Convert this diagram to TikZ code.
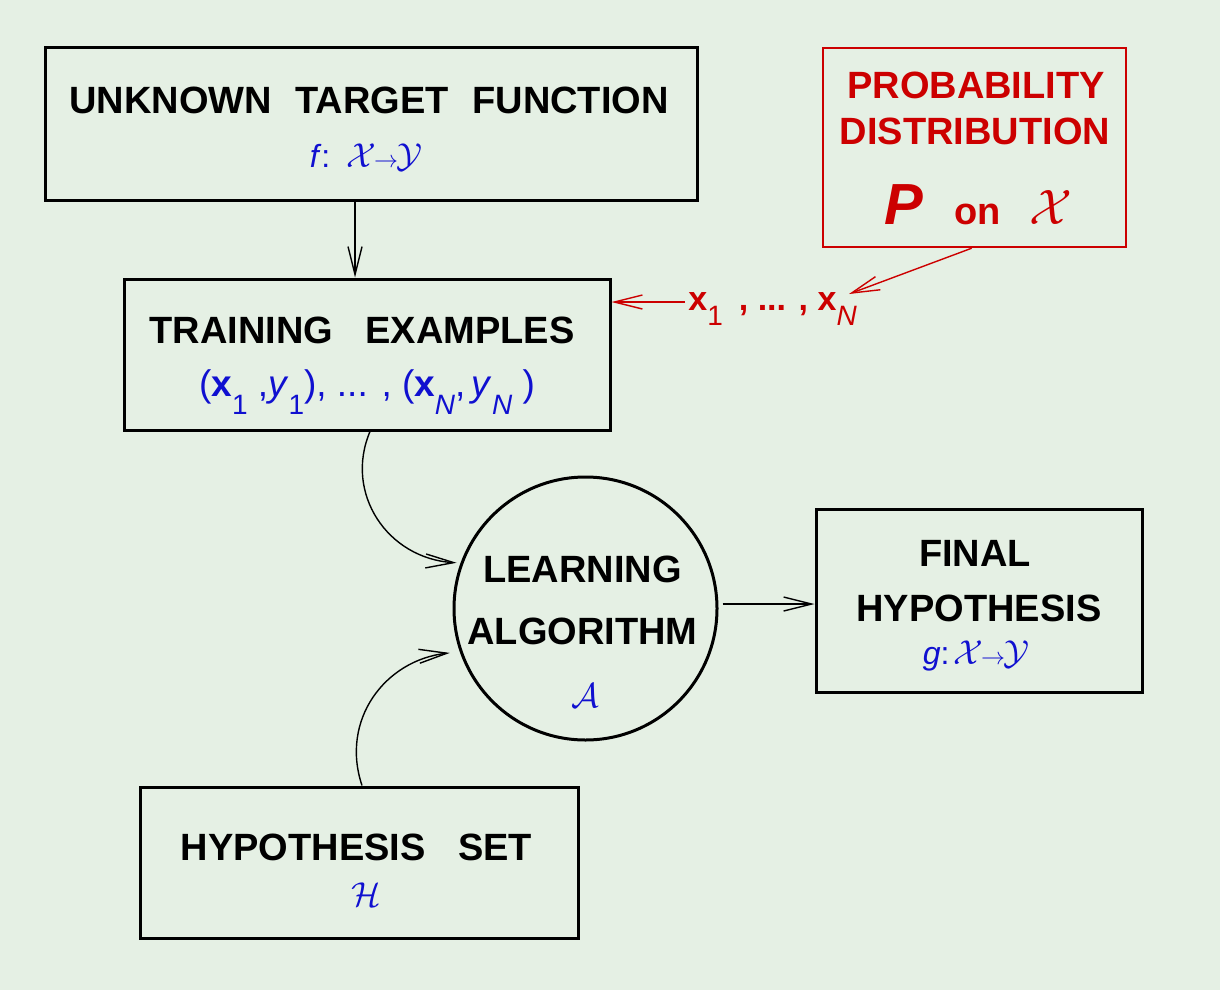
\documentclass[tikz,border=0pt]{standalone}
\usepackage{fontspec}
\setmainfont{Liberation Sans}
\usetikzlibrary{arrows.meta}
\definecolor{bgcol}{RGB}{229,240,228}
\definecolor{myblue}{RGB}{16,16,208}
\definecolor{myred}{RGB}{204,0,0}
\newcommand\lowsub[2][9pt]{\raisebox{-#1}{\fontsize{14}{15}\selectfont #2}}
\begin{document}
\begin{tikzpicture}[x=0.5pt,y=-0.5pt,
  box/.style={draw=black,line width=1.5pt,inner sep=0pt},
  ttl/.style={font=\fontsize{19}{22}\selectfont\bfseries,inner sep=0pt,anchor=base},
  formula/.style={text=myblue,inner sep=0pt,anchor=base},
  conn/.style={line width=0.7pt,-{Straight Barb[length=14pt,width=7pt,line width=0.7pt]}},
  redconn/.style={conn,draw=myred},
]
\fill[bgcol] (0,0) rectangle (1220,990);
\useasboundingbox (0,0) rectangle (1220,990);

% boxes
\node[box,minimum width=326pt,minimum height=76pt] (utf) at (371,124) {};
\node[box,draw=myred,line width=1.2pt,minimum width=151.5pt,minimum height=99.5pt] (pd) at (974.5,147.5) {};
\node[box,minimum width=243pt,minimum height=75.5pt] (te) at (367,354.5) {};
\node[box,circle,minimum size=131.5pt] (la) at (585.5,608.5) {};
\node[box,minimum width=163pt,minimum height=91.5pt] (fh) at (979,600.5) {};
\node[box,minimum width=219pt,minimum height=75.5pt] (hs) at (359,862.5) {};

% texts
\node[ttl] (utf-t) at (369,113) {UNKNOWN\hspace{6.5pt} TARGET\hspace{6.5pt} FUNCTION};
\node[formula] (utf-f) at (366,167) {\fontsize{16}{18}\selectfont\itshape f\/\upshape:\hspace{8pt}{\fontsize{18}{20}\selectfont$\mathcal{X}\mkern-1mu{\scriptstyle\rightarrow}\mkern-1mu\mathcal{Y}$}};

\node[ttl,text=myred] (pd-t1) at (976,98) {PROBABILITY};
\node[ttl,text=myred] (pd-t2) at (975,145) {DISTRIBUTION};
\node[ttl,text=myred] (pd-t3) at (978,224) {{\fontsize{29}{30}\selectfont\bfseries\itshape P}\hspace{16pt}{\fontsize{19}{20}\selectfont\bfseries on}\hspace{14pt}{\fontsize{31}{32}\selectfont$\mathcal{X}$}};

\node[ttl] (te-t) at (362,343) {TRAINING\hspace{11pt} EXAMPLES};
\node[formula] (te-f) at (367,396) {\fontsize{18.5}{20}\selectfont (\textbf{x}\lowsub{1} ,\textit{y}\lowsub{1}), ... , (\textbf{x}\lowsub{\textit{N}},\,\textit{y}\lowsub{\textit{N}} )};

\node[ttl] (la-t1) at (582.5,582) {LEARNING};
\node[ttl] (la-t2) at (582.5,644) {ALGORITHM};
\node[formula] (la-f) at (585,707) {\fontsize{18}{20}\selectfont$\mathcal{A}$};

\node[ttl] (fh-t1) at (975,566) {FINAL};
\node[ttl] (fh-t2) at (979,621) {HYPOTHESIS};
\node[formula] (fh-f) at (976,664) {\fontsize{16}{18}\selectfont\itshape g\/\upshape:\hspace{2pt}{\fontsize{18}{20}\selectfont$\mathcal{X}\mkern-1mu{\scriptstyle\rightarrow}\mkern-1mu\mathcal{Y}$}};

\node[ttl] (hs-t) at (356.5,860) {HYPOTHESIS\hspace{11pt} SET};
\node[formula] (hs-f) at (366,906) {\fontsize{19}{20}\selectfont$\mathcal{H}$};

\node[inner sep=0pt,anchor=base west,text=myred,font=\fontsize{17}{20}\selectfont\bfseries] (xs) at (688,310)
  {x\lowsub[7.5pt]{\mdseries 1}\hspace{8pt}, ... , x\lowsub[7.5pt]{\mdseries\itshape N}};
\coordinate (xstart) at (685,302);
\coordinate (xtip) at (849,294);

% connectors
\draw[conn] ([xshift=-8pt]utf.south) -- ([xshift=-6pt]te.north);
\draw[redconn] ([xshift=-1.4pt]pd.south) -- (xtip);
\draw[redconn] (xstart) -- (te.east |- xstart);
\draw[conn,shorten >=2pt] ([xshift=1.5pt]te.south) .. controls (343.8,493.3) and (387.6,558.7) .. (la.160);
\draw[conn,shorten >=5pt] ([xshift=1.5pt]hs.north) .. controls (340,720) and (385,660) .. (la.199);
\draw[conn] ([xshift=2pt,yshift=2.25pt]la.east) -- ([yshift=-1.75pt]fh.west);
\end{tikzpicture}
\end{document}
